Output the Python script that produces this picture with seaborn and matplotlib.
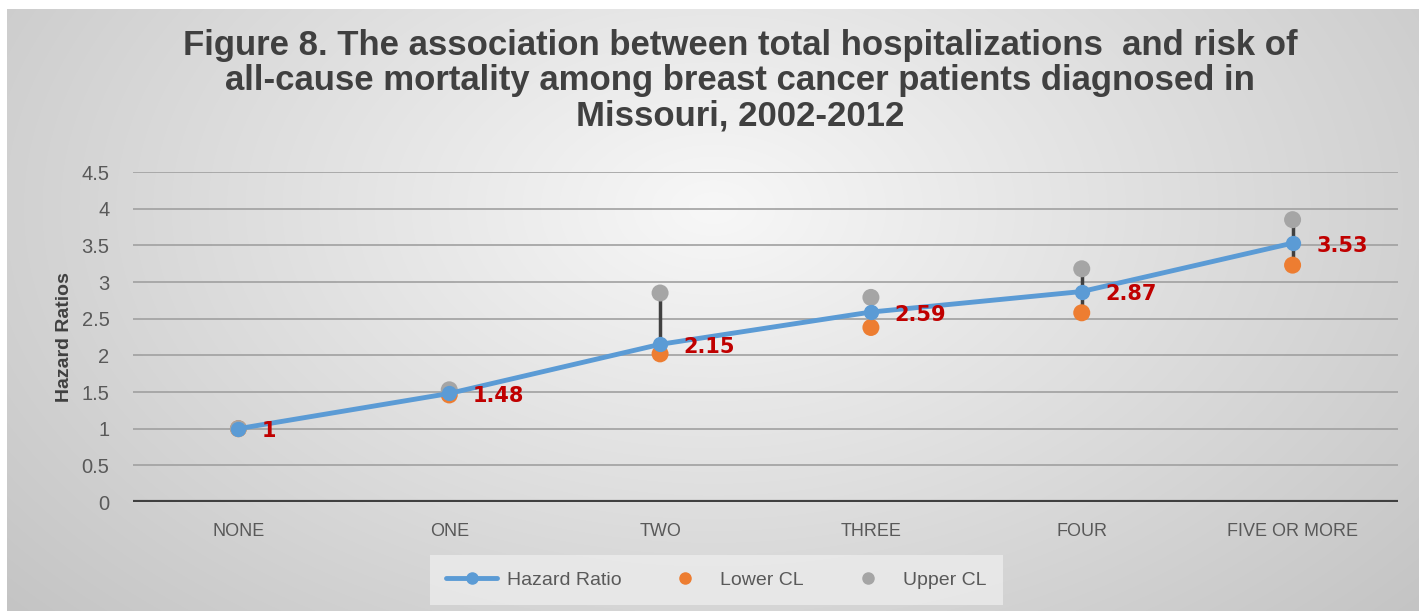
import numpy as np
import pandas as pd
import matplotlib.pyplot as plt
import seaborn as sns
from matplotlib.lines import Line2D

# ==========================================
# DATA
# ==========================================
categories = ["NONE", "ONE", "TWO", "THREE", "FOUR", "FIVE OR MORE"]
hazard_ratio = [1.0, 1.48, 2.15, 2.59, 2.87, 3.53]
lower_cl = [1.0, 1.46, 2.02, 2.38, 2.58, 3.23]
upper_cl = [1.0, 1.53, 2.85, 2.79, 3.18, 3.85]
hr_labels = ["1", "1.48", "2.15", "2.59", "2.87", "3.53"]

BLUE = "#5B9BD5"
ORANGE = "#ED7D31"
GREY = "#A5A5A5"
RED = "#C00000"
TEXT = "#595959"

df = pd.DataFrame({"cat": categories, "hr": hazard_ratio,
                   "lo": lower_cl, "hi": upper_cl})
df["x"] = np.arange(len(df))

sns.set_style("white")
plt.rcParams["font.family"] = ["Liberation Sans", "DejaVu Sans"]

fig = plt.figure(figsize=(14.19, 6.11), dpi=100, facecolor="white")

# radial grey background like the office chart area (thin white frame top/left)
h, w = 611, 1419
bh, bw = h - 9, w - 7
yy, xx = np.mgrid[0:bh, 0:bw]
r = np.sqrt(((xx - bw * 0.5) / (bw * 0.6)) ** 2 + ((yy - bh * 0.33) / (bh * 0.9)) ** 2)
shade = np.clip(0.97 - 0.18 * r, 0.76, 0.97)
fig.figimage(np.dstack([shade] * 3), xo=7, yo=0, origin="upper", zorder=-10)

ax = fig.add_axes([133 / w, 1 - 502 / h, (1398 - 133) / w, (502 - 172) / h])
ax.set_zorder(2)
ax.patch.set_alpha(0)

# confidence interval whiskers
ax.vlines(df["x"], df["lo"], df["hi"], color="#404040", lw=2.5, zorder=2)

sns.lineplot(data=df, x="x", y="hr", ax=ax, color=BLUE, lw=3.5,
             marker="o", markersize=11, markeredgewidth=0, zorder=4)
sns.scatterplot(data=df, x="x", y="lo", ax=ax, color=ORANGE, s=150,
                edgecolor="none", zorder=3)
sns.scatterplot(data=df, x="x", y="hi", ax=ax, color=GREY, s=150,
                edgecolor="none", zorder=3)

for xi, yi, lab in zip(df["x"], df["hr"], hr_labels):
    ax.annotate(lab, (xi, yi), xytext=(17, -2), textcoords="offset points",
                ha="left", va="center", color=RED, fontsize=15,
                fontweight="bold", family=["DejaVu Sans"], zorder=5)

ax.set_xlim(-0.5, len(categories) - 0.5)
ax.set_ylim(0, 4.5)
ax.set_yticks(np.arange(0, 4.51, 0.5))
ax.set_yticklabels(["0", "0.5", "1", "1.5", "2", "2.5", "3", "3.5", "4", "4.5"])
ax.set_xticks(df["x"])
ax.set_xticklabels(categories)
ax.grid(axis="y", color="#A0A0A0", lw=1.2)
ax.set_axisbelow(True)
for s in ax.spines.values():
    s.set_visible(False)
ax.axhline(0, color="#404040", lw=3, zorder=1)
ax.tick_params(axis="x", length=0, labelsize=13, labelcolor=TEXT, pad=15)
ax.tick_params(axis="y", length=0, labelsize=14.5, labelcolor=TEXT, pad=17)
ax.set_xlabel("")
ax.set_ylabel("Hazard Ratios", fontsize=14, fontweight="bold", color="#404040",
              labelpad=6)

fig.text(0.5215, 0.953, "Figure 8. The association between total hospitalizations  and risk of\n"
         "all-cause mortality among breast cancer patients diagnosed in\n"
         "Missouri, 2002-2012",
         ha="center", va="top", fontsize=25, fontweight="bold",
         color="#404040", linespacing=1.1, zorder=5)

handles = [
    Line2D([], [], color=BLUE, lw=3.5, marker="o", markersize=8),
    Line2D([], [], color=ORANGE, lw=0, marker="o", markersize=8),
    Line2D([], [], color=GREY, lw=0, marker="o", markersize=8),
]
leg = fig.legend(handles, ["Hazard Ratio", "Lower CL", "Upper CL"],
                 loc="center", bbox_to_anchor=(0.505, 1 - 580 / h), ncol=3,
                 frameon=True, fontsize=14, handlelength=2.6, columnspacing=2.0,
                 handletextpad=0.5, borderpad=0.55)
leg.get_frame().set_facecolor("#ececec")
leg.get_frame().set_edgecolor("none")
leg.get_frame().set_boxstyle("square")
leg.set_zorder(5)
for t in leg.get_texts():
    t.set_color(TEXT)

fig.savefig("out.png", dpi=100)
